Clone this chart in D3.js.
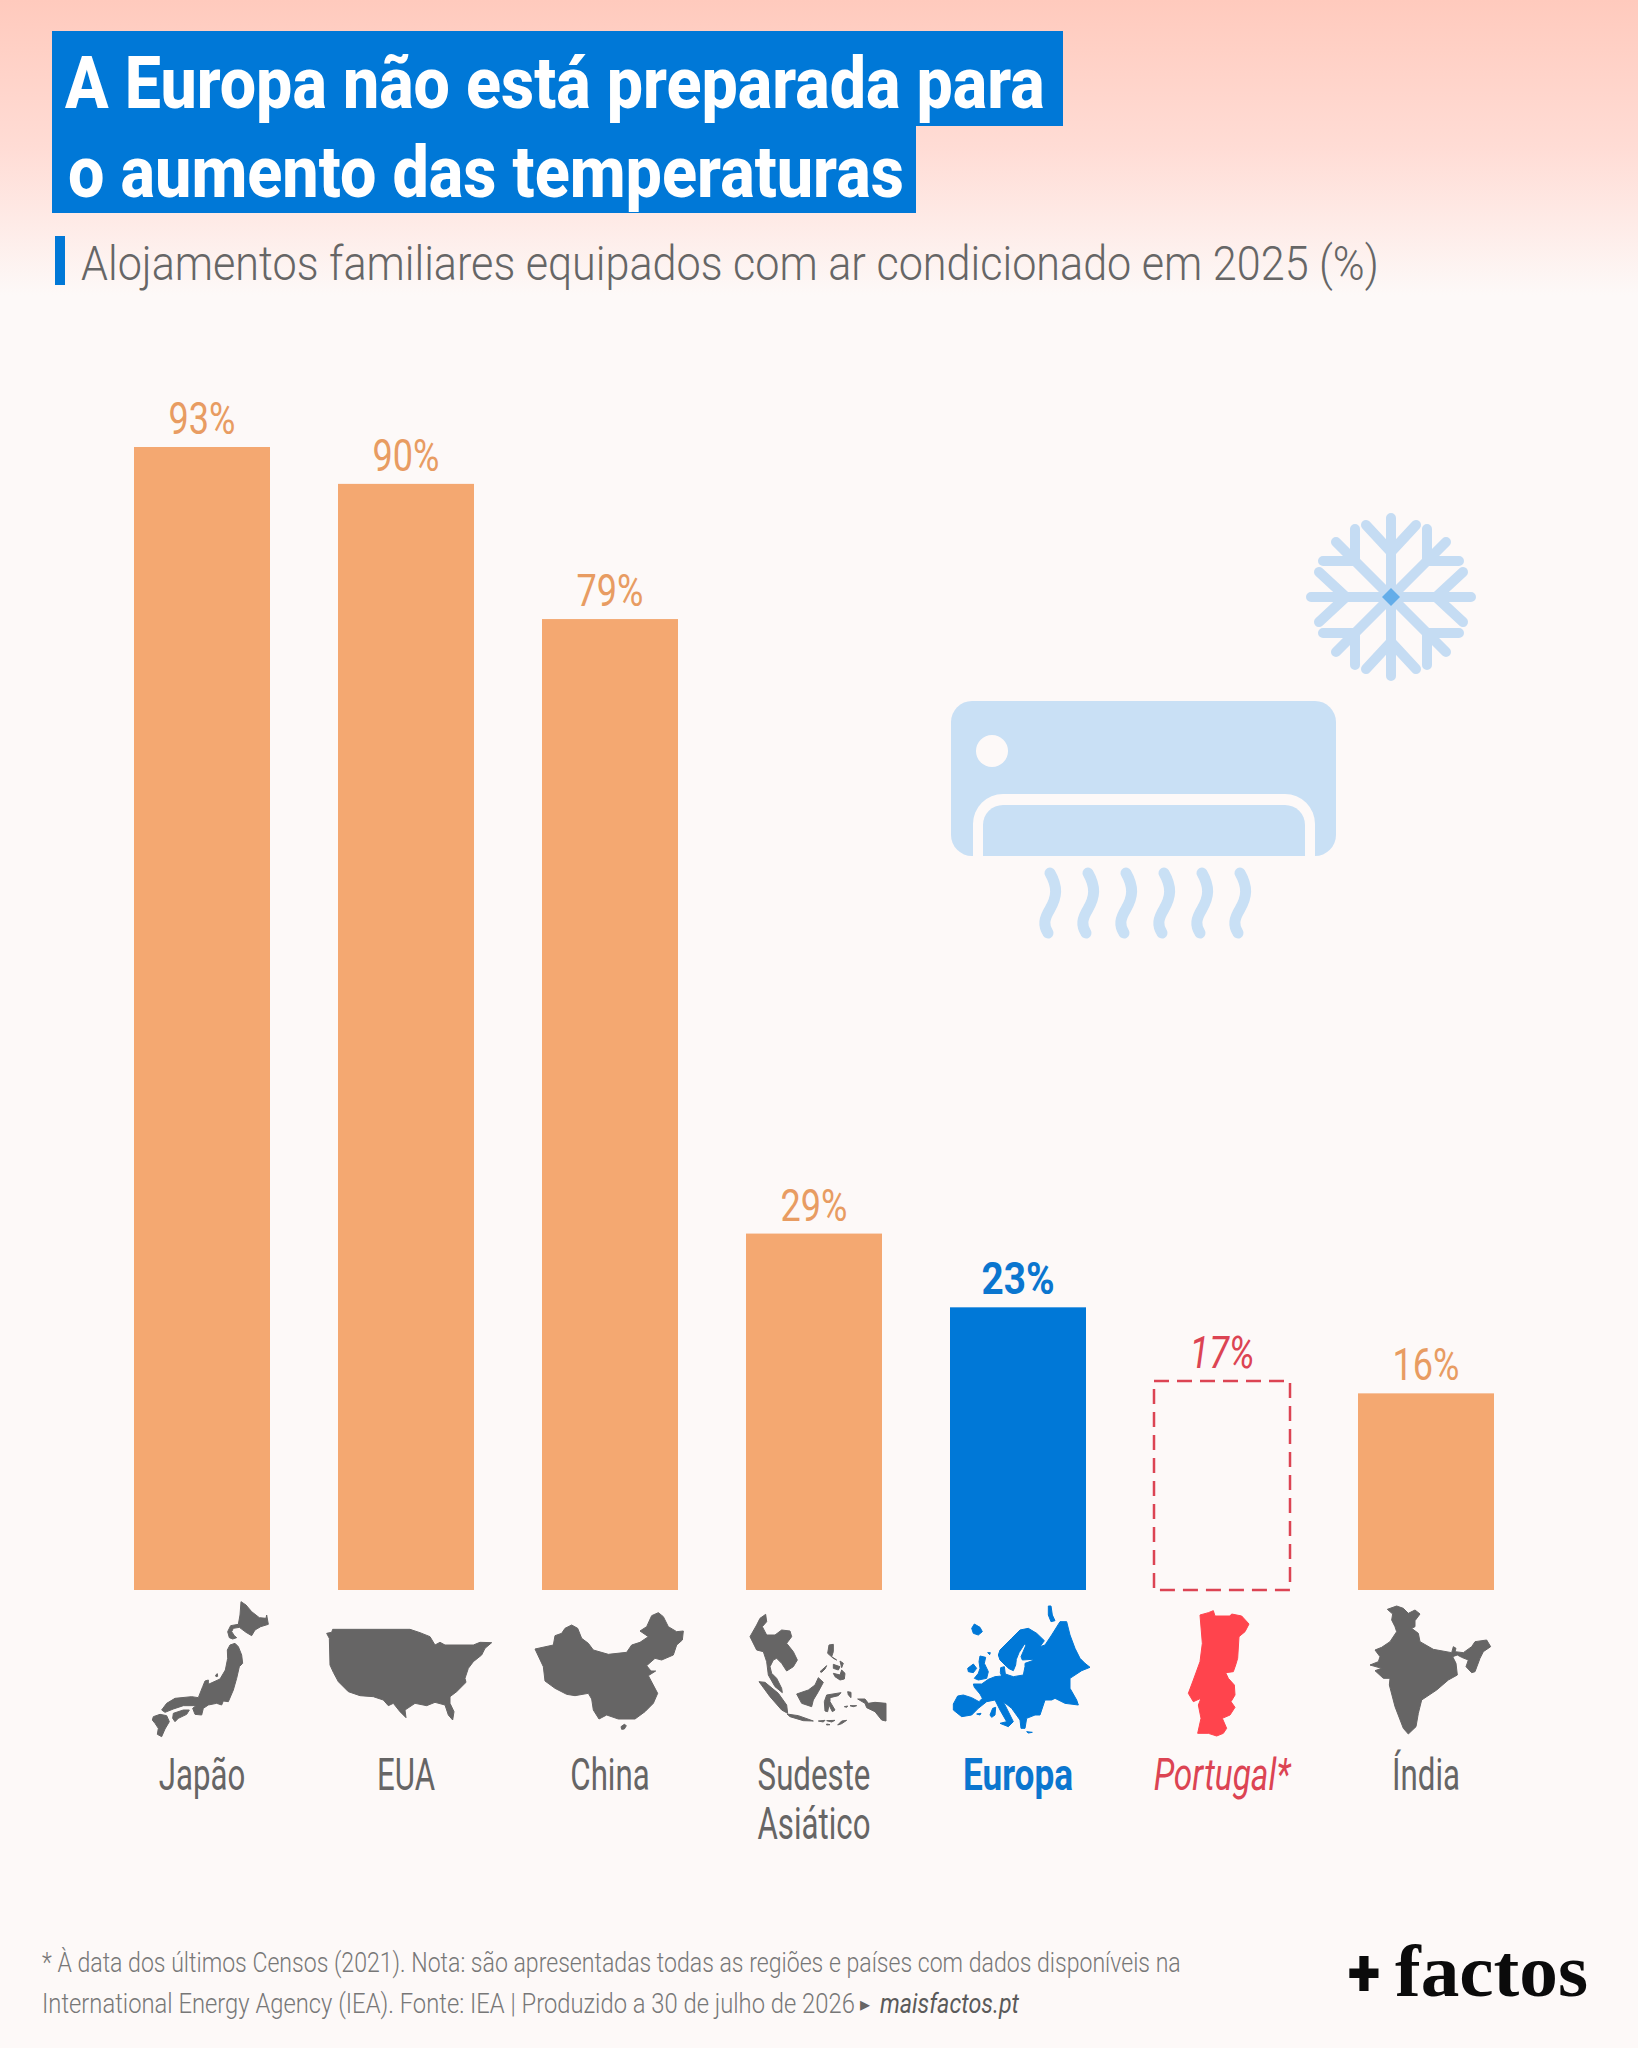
<!DOCTYPE html>
<html lang="pt">
<head>
<meta charset="utf-8">
<title>A Europa não está preparada para o aumento das temperaturas</title>
<script src="https://cdn.jsdelivr.net/npm/d3@7"></script>
<style>
  body { margin: 0; background: #fdf9f8; }
  svg { display: block; }
  text { font-family: Roboto, sans-serif; }
</style>
</head>
<body>
<svg id="chart" width="1638" height="2048"></svg>
<script>
// Chart data
const categories = ['Japão', 'EUA', 'China', 'Sudeste Asiático', 'Europa', 'Portugal*', 'Índia'];
const values = [93, 90, 79, 29, 23, 17, 16];

const titleLines = ['A Europa não está preparada para', 'o aumento das temperaturas'];
const subtitle = 'Alojamentos familiares equipados com ar condicionado em 2025 (%)';
const footnote1 = '* À data dos últimos Censos (2021). Nota: são apresentadas todas as regiões e países com dados disponíveis na';
const footnote2 = 'International Energy Agency (IEA). Fonte: IEA | Produzido a 30 de julho de 2026';

const ORANGE = '#f4a871';
const BLUE = '#0078d7';
const RED = '#ff444d';
const GREY = '#666565';
const ICE = '#c9e0f5';
const PAPER = '#fdf9f8';

// Silhouettes, traced at 3x from the reference; origin is where each tracing starts
const silhouettes = {
  'Japão': { origin: [140, 1595], d: `
    M303,20 L318,30 335,50 358,68 378,70 380,60 385,88 362,95 345,105 335,122 318,112 298,97 280,100 275,110 283,122 290,128 278,132 268,128 263,110 272,92 295,88 300,60 Z
    M270,150 L285,145 295,155 305,180 308,205 298,215 290,250 280,285 265,320 250,318 245,330 230,325 205,330 190,340 185,360 165,358 158,340 168,332 130,332 100,342 75,352 65,345 80,325 105,310 155,305 175,308 188,275 195,258 205,255 205,268 240,252 256,225 263,190 262,165 Z
    M40,365 L60,358 80,362 88,380 75,402 65,425 52,418 55,400 45,385 37,375 Z
    M100,355 L130,345 148,345 140,358 115,370 105,380 98,370 Z
    M227,240 L232,236 233,244 228,245 Z` },
  'EUA': { origin: [140, 1595], d: `
    M578,103 L810,103 840,113 870,125 885,150 900,142 915,150 1000,150 1020,142 1055,143 1035,160 1025,180 1000,200 985,220 975,250 978,262 950,290 930,305 930,325 942,350 938,375 925,360 915,330 885,322 860,332 825,325 795,345 798,368 780,350 760,325 745,332 730,315 700,305 660,302 625,290 595,260 580,232 570,210 568,130 560,115 575,112 Z` },
  'China': { origin: [525, 1595], d: `
    M30,162 L85,150 90,122 110,115 120,100 140,90 158,100 170,130 190,145 205,165 250,178 305,172 320,150 345,142 370,125 345,108 365,95 380,62 400,53 415,65 430,95 455,110 475,108 472,135 455,150 445,180 410,195 390,190 365,212 378,228 392,228 370,242 398,295 385,325 360,350 330,372 280,372 245,360 222,372 205,345 200,312 190,295 150,302 125,298 90,280 60,258 55,215 Z
    M288,395 L298,388 304,392 298,402 290,403 Z` },
  'Sudeste Asiático': { origin: [525, 1595], d: `
    M722,58 L725,80 712,95 725,120 750,120 770,105 795,108 800,125 785,145 805,170 817,195 805,215 785,228 770,205 755,190 745,195 735,215 740,235 755,250 770,280 772,293 750,275 730,240 725,200 715,170 695,165 675,125 695,90 705,70 Z
    M702,260 L720,262 760,295 785,330 788,355 770,345 735,305 Z
    M786,357 L820,362 865,378 835,377 795,365 Z
    M880,248 L895,262 880,290 865,315 860,335 830,325 815,297 850,285 870,270 Z
    M905,300 L948,293 940,302 915,308 915,320 930,345 922,350 912,330 908,350 900,348 898,320 Z
    M912,150 L925,148 925,170 920,185 935,195 925,190 908,175 Z
    M925,235 L945,240 950,225 960,235 958,252 945,255 930,245 Z
    M925,208 L945,215 940,225 925,220 Z
    M945,198 L955,205 950,218 Z
    M885,230 L905,212 900,222 890,232 Z
    M998,312 L1020,312 1030,325 1050,322 1083,325 1083,378 1070,375 1050,350 1025,338 1020,325 Z
    M880,378 L900,376 895,381 Z
    M905,377 L930,376 920,381 Z
    M938,390 L950,378 965,376 950,386 Z
    M905,387 L915,389 905,390 Z
    M975,332 L995,332 985,335 Z
    M958,335 L968,333 965,337 Z
    M968,290 L978,292 978,308 970,300 Z` },
  'Europa': { origin: [945, 1600], d: `
    M25,312 L38,288 55,285 80,293 102,305 112,295 105,282 88,262 85,252 110,252 130,238 150,230 170,228 166,218 167,203 178,200 181,222 205,230 235,225 240,200 240,190 262,182 262,178 232,180 228,170 243,135 238,133 222,158 214,178 212,195 205,212 192,206 180,195 165,180 160,165 165,150 200,115 225,90 250,85 275,100 298,122 285,140 300,135 320,105 345,65 365,65 375,105 390,145 405,175 420,190 435,202 410,212 375,235 375,265 395,300 400,315 360,310 330,295 320,300 300,300 285,345 270,345 245,355 240,385 228,385 225,360 200,325 175,305 195,345 205,365 190,380 165,370 185,365 165,330 150,300 125,305 100,325 80,345 50,350 25,330 Z
    M310,18 L318,18 322,45 330,62 318,65 310,45 Z
    M80,85 L88,72 105,82 112,95 100,105 85,100 Z
    M105,168 L122,172 118,190 130,215 125,235 100,240 88,235 100,220 105,205 102,185 Z
    M68,205 L85,192 95,205 85,218 70,215 Z
    M143,325 L152,322 150,345 140,352 135,345 Z
    M245,395 L262,397 250,399 Z
    M95,342 L108,340 105,345 Z
    M128,158 L136,158 134,164 Z` },
  'Portugal*': { origin: [945, 1600], d: `
    M765,45 L790,38 805,32 810,48 855,48 860,42 890,48 912,72 900,95 882,110 878,175 872,195 865,215 842,218 850,235 868,255 870,285 858,305 870,322 855,345 832,355 845,385 835,400 815,408 790,400 758,400 768,355 760,315 768,295 745,305 730,280 745,240 765,185 772,130 Z` },
  'Índia': { origin: [1340, 1600], d: `
    M142,28 L170,18 190,25 205,40 225,30 240,42 225,62 225,80 215,85 235,100 240,125 280,148 335,158 340,140 348,145 345,155 370,158 395,140 405,125 440,120 452,140 430,155 420,175 405,215 395,218 378,200 385,180 365,172 352,165 338,170 348,190 352,225 325,240 290,270 245,300 235,340 228,380 205,402 190,385 165,320 148,255 150,235 130,235 105,212 125,205 90,195 115,185 120,170 105,150 125,142 150,125 170,95 165,80 155,60 158,42 Z` }
};

const svg = d3.select('#chart');

// Background wash
const grad = svg.append('defs').append('linearGradient')
  .attr('id', 'wash').attr('x1', 0).attr('x2', 0).attr('y1', 0).attr('y2', 1);
grad.append('stop').attr('offset', 0).attr('stop-color', '#ffcabd');
grad.append('stop').attr('offset', 0.5).attr('stop-color', '#ffdcd5');
grad.append('stop').attr('offset', 1).attr('stop-color', PAPER);
svg.append('rect').attr('width', 1638).attr('height', 2048).attr('fill', PAPER);
svg.append('rect').attr('width', 1638).attr('height', 295).attr('fill', 'url(#wash)');

// Title boxes
svg.append('rect').attr('x', 52).attr('y', 31).attr('width', 1011).attr('height', 95).attr('fill', BLUE);
svg.append('rect').attr('x', 52).attr('y', 126).attr('width', 864).attr('height', 87).attr('fill', BLUE);

// Text squeezed sideways to a set width, since no condensed face is installed
function fitted(x, y, str, width, size, weight, fill, family, style) {
  const t = svg.append('text')
    .attr('font-size', size).attr('font-weight', weight).attr('fill', fill)
    .style('font-family', family || null)
    .style('font-style', style || null)
    .text(str);
  const natural = t.node().getComputedTextLength();
  t.attr('transform', `translate(${x},${y}) scale(${width / natural},1)`);
  return t;
}

fitted(65, 108, titleLines[0], 980, 73, 800, '#fff');
fitted(68, 197, titleLines[1], 836, 73, 800, '#fff');

// Subtitle
svg.append('rect').attr('x', 55).attr('y', 236).attr('width', 10).attr('height', 49).attr('fill', BLUE);
fitted(81, 280, subtitle, 1298, 49, 300, '#666');

// Scales
const x = d3.scaleBand().domain(categories).range([134, 1494]).paddingInner(1 / 3);
const y = d3.scaleLinear().domain([0, 93]).range([1590, 447]);

function barFill(c) {
  if (c === 'Europa') return BLUE;
  if (c === 'Portugal*') return 'none';
  return ORANGE;
}
function labelFill(c) {
  if (c === 'Europa') return '#0b76cf';
  if (c === 'Portugal*') return '#dc4453';
  return '#e89c62';
}

const rows = categories.map((c, i) => ({ c, v: values[i] }));

// Bars
svg.append('g').selectAll('rect').data(rows).join('rect')
  .attr('x', d => x(d.c))
  .attr('y', d => y(d.v))
  .attr('width', x.bandwidth())
  .attr('height', d => y(0) - y(d.v))
  .attr('fill', d => barFill(d.c))
  .attr('stroke', d => d.c === 'Portugal*' ? '#dc4453' : 'none')
  .attr('stroke-width', 2.5)
  .attr('stroke-dasharray', d => d.c === 'Portugal*' ? '15 8' : null);

// Value labels
svg.append('g').selectAll('text').data(rows).join('text')
  .attr('transform', d => `translate(${x(d.c) + x.bandwidth() / 2},${y(d.v) - 13}) scale(${d.c === 'Europa' ? 0.88 : 0.82},1)`)
  .attr('text-anchor', 'middle')
  .attr('font-size', 44)
  .attr('font-weight', d => d.c === 'Europa' ? 700 : 400)
  .attr('font-style', d => d.c === 'Portugal*' ? 'italic' : 'normal')
  .attr('fill', d => labelFill(d.c))
  .text(d => d.v + '%');

// Silhouettes
svg.append('g').selectAll('path').data(categories).join('path')
  .attr('transform', c => `translate(${silhouettes[c].origin}) scale(${1 / 3})`)
  .attr('d', c => silhouettes[c].d)
  .attr('fill', c => c === 'Europa' ? BLUE : c === 'Portugal*' ? RED : GREY)
  .attr('stroke', c => c === 'Europa' ? BLUE : c === 'Portugal*' ? RED : GREY)
  .attr('stroke-width', 3)
  .attr('stroke-linejoin', 'round');

// Category labels from the axis, restyled, with the two-word one on two lines
const axis = svg.append('g')
  .attr('transform', 'translate(0,1790)')
  .call(d3.axisBottom(x).tickSize(0).tickPadding(0));
axis.select('.domain').remove();
axis.selectAll('.tick text')
  .attr('y', 0).attr('dy', 0)
  .attr('transform', c => c === 'Europa' ? 'scale(0.8,1)' : c === 'Portugal*' ? 'scale(0.76,1)' : 'scale(0.71,1)')
  .attr('font-family', 'Roboto, sans-serif')
  .attr('font-size', 44)
  .attr('font-weight', c => c === 'Europa' ? 700 : 400)
  .attr('font-style', c => c === 'Portugal*' ? 'italic' : 'normal')
  .attr('fill', c => c === 'Europa' ? '#0b76cf' : c === 'Portugal*' ? '#dc4453' : GREY)
  .each(function (c) {
    const words = c.split(' ');
    if (words.length < 2) return;
    const t = d3.select(this).text(null);
    words.forEach((w, i) => t.append('tspan').attr('x', 0).attr('dy', i ? 49 : 0).text(w));
  });

// Air conditioner icon
const ac = svg.append('g');
ac.append('rect').attr('x', 951).attr('y', 701).attr('width', 385).attr('height', 155).attr('rx', 21).attr('fill', ICE);
ac.append('path').attr('fill', PAPER)
  .attr('d', 'M973,857 V824 a30,30 0 0 1 30,-30 H1285 a30,30 0 0 1 30,30 V857 Z');
ac.append('path').attr('fill', ICE)
  .attr('d', 'M983,856 V825 a20,20 0 0 1 20,-20 H1285 a20,20 0 0 1 20,20 V856 Z');
ac.append('circle').attr('cx', 992).attr('cy', 751).attr('r', 16).attr('fill', PAPER);

const waveX = d3.range(6).map(i => 1050 + i * 38);
ac.selectAll('.wave').data(waveX).join('path')
  .attr('class', 'wave')
  .attr('transform', d => `translate(${d},873)`)
  .attr('d', 'M0,0 C8,14 7,24 0,36 C-6,46 -7,52 -2,60')
  .attr('fill', 'none')
  .attr('stroke', ICE)
  .attr('stroke-width', 11)
  .attr('stroke-linecap', 'round');

// Snowflake
const flake = svg.append('g').attr('transform', 'translate(1391,597)');
const armPaths = [
  'M0,0 V-79 M0,-45 L-25,-72 M0,-45 L25,-72',
  'M0,0 V79 M0,45 L-25,72 M0,45 L25,72',
  'M0,0 H-80 M-45,0 L-72,-25 M-45,0 L-72,25',
  'M0,0 H80 M45,0 L72,-25 M45,0 L72,25'
];
[[1, 1], [1, -1], [-1, 1], [-1, -1]].forEach(s => {
  armPaths.push(`M0,0 L${s[0] * 55},${s[1] * 55} M${s[0] * 36},${s[1] * 36} L${s[0] * 36},${s[1] * 68} M${s[0] * 36},${s[1] * 36} L${s[0] * 68},${s[1] * 36}`);
});
flake.selectAll('path').data(armPaths).join('path')
  .attr('d', d => d)
  .attr('fill', 'none')
  .attr('stroke', '#c5dcf3')
  .attr('stroke-width', 10)
  .attr('stroke-linecap', 'round');
flake.append('path').attr('d', 'M0,-9 L9,0 0,9 -9,0 Z').attr('fill', '#64ade9');

// Footer
fitted(42, 1972, footnote1, 1139, 28, 300, '#777');
fitted(42, 2013, footnote2, 813, 28, 300, '#777');
svg.append('text').attr('x', 860).attr('y', 2011).attr('font-size', 20).attr('fill', GREY).text('▸');
fitted(880, 2013, 'maisfactos.pt', 139, 28, 400, '#5a5a5a', null, 'italic');

// Logo
fitted(1348, 1996, '+', 32, 66, 900, '#0b0b0b');
fitted(1395, 1996, 'factos', 193, 74, 700, '#0b0b0b', '"Liberation Serif", serif');
</script>
</body>
</html>
